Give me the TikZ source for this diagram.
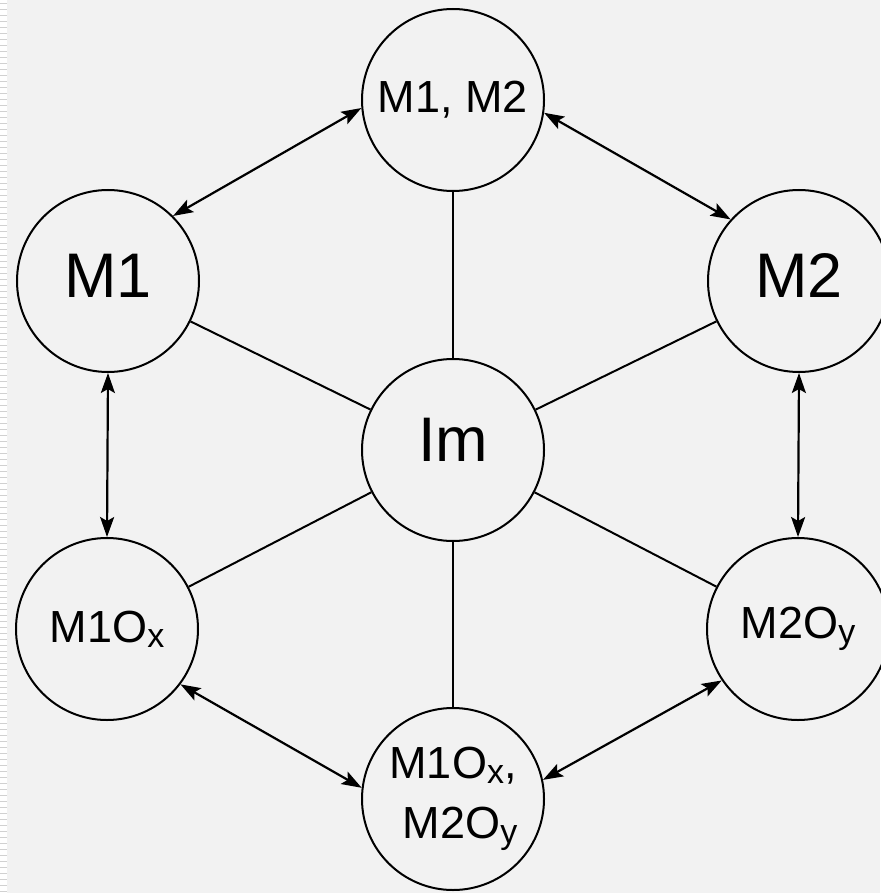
\documentclass[tikz,border=0pt]{standalone}
\usepackage{fontspec}
\setmainfont{Liberation Sans}
\usetikzlibrary{arrows.meta}
\definecolor{bgc}{HTML}{F2F2F2}
\tikzset{
  stage/.style={circle,draw=black,line width=2pt,minimum size=182pt,inner sep=0pt,fill=bgc},
  bigtxt/.style={font=\fontsize{63}{63}\selectfont},
  smalltxt/.style={font=\fontsize{45}{60}\selectfont,align=center},
  link/.style={line width=2pt},
  dblarrow/.style={line width=2.2pt,{Stealth[length=20pt,width=14pt,inset=4pt]}-{Stealth[length=20pt,width=14pt,inset=4pt]}}
}
\newcommand{\subx}[1]{\raisebox{-5pt}{\fontsize{34}{34}\selectfont #1}}
\begin{document}
\begin{tikzpicture}[x=1pt,y=-1pt]
  \useasboundingbox (0,0) rectangle (880,893);
  \fill[bgc] (0,0) rectangle (880,893);
  \fill[white] (0,0) rectangle (7,893);
  \foreach \yy in {3,9,...,891} { \draw[black!18,line width=0.8pt] (0,\yy) -- (7,\yy); }
  % nodes
  \node[stage,bigtxt,text depth=20pt] (im) at (453,450) {Im};
  \node[stage,smalltxt] (top) at (453,100) {M1, M2};
  \node[stage,bigtxt,text depth=10pt] (m1) at (108,281) {M1};
  \node[stage,bigtxt,text depth=10pt] (m2) at (799,281) {M2};
  \node[stage,smalltxt] (m1o) at (107,629) {M1O\subx{x}};
  \node[stage,smalltxt] (m2o) at (798,629) {M2O\subx{y}};
  \node[stage,smalltxt] (bot) at (453,799) {M1O\subx{x},\\\hspace*{14pt}M2O\subx{y}};
  % spokes
  \foreach \n in {top,m1,m2,m1o,m2o,bot} { \draw[link] (im) -- (\n); }
  % double arrows
  \draw[dblarrow] (top.185) -- (m1.45);
  \draw[dblarrow] (top.-8) -- (m2.138);
  \draw[dblarrow] (m1.south) -- (m1o.north);
  \draw[dblarrow] (m2.south) -- (m2o.north);
  \draw[dblarrow] (m1o.-37) -- (bot.173);
  \draw[dblarrow] (m2o.214) -- (bot.12);
\end{tikzpicture}
\end{document}
